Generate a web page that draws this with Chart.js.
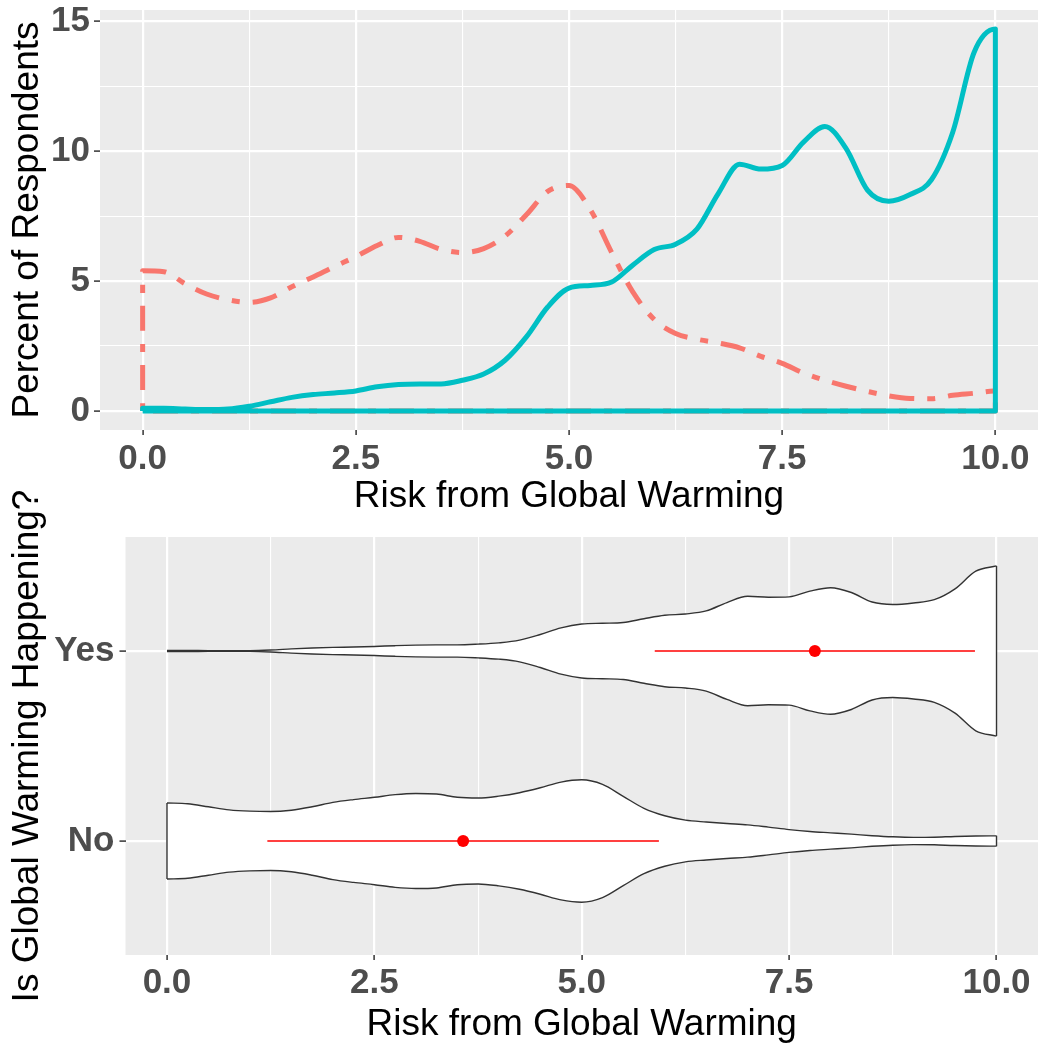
<!DOCTYPE html>
<html>
<head>
<meta charset="utf-8">
<script src="https://cdn.jsdelivr.net/npm/chart.js@4.4.1/dist/chart.umd.min.js"></script>
<style>
html, body { margin: 0; padding: 0; background: #fff; }
#wrap { position: relative; width: 1038px; height: 1049px; }
.box { position: absolute; left: 0; width: 1038px; }
</style>
</head>
<body>
<div id="wrap">
  <div class="box" style="top:0;height:520px"><canvas id="graficoDensidade"></canvas></div>
  <!-- o canvas de baixo sobe um pouco para o titulo do eixo y caber inteiro -->
  <div class="box" style="top:470px;height:579px"><canvas id="graficoViolino"></canvas></div>
</div>
<script>
// eixo x comum (risco de 0 a 10)
const risco = [0, 0.25, 0.5, 0.75, 1, 1.25, 1.5, 1.75, 2, 2.25, 2.5, 2.75, 3, 3.25, 3.5, 3.75, 4, 4.25, 4.5, 4.75,
    5, 5.25, 5.5, 5.75, 6, 6.25, 6.5, 6.75, 7, 7.25, 7.5, 7.75, 8, 8.25, 8.5, 8.75, 9, 9.25, 9.5, 9.75, 10];

// densidade em % (grafico de cima)
const densNo = [5.4, 5.36, 4.89, 4.5, 4.28, 4.18, 4.35, 4.78, 5.16, 5.56, 5.94, 6.37, 6.68, 6.53, 6.22, 6.1, 6.25, 6.73, 7.55, 8.45,
    8.68, 7.75, 6.1, 4.57, 3.52, 2.98, 2.76, 2.62, 2.43, 2.1, 1.83, 1.46, 1.18, 0.95, 0.75, 0.58, 0.48, 0.47, 0.6, 0.68, 0.77];
const densYes = [0.1, 0.1, 0.07, 0.05, 0.07, 0.18, 0.35, 0.52, 0.63, 0.69, 0.77, 0.93, 1.02, 1.04, 1.04, 1.18, 1.42, 1.95, 2.85, 4.0,
    4.73, 4.83, 4.96, 5.62, 6.21, 6.42, 7.0, 8.37, 9.5, 9.31, 9.45, 10.35, 10.95, 10.1, 8.5, 8.07, 8.33, 8.9, 10.73, 13.8, 14.7];

// meia largura dos violinos (grafico de baixo)
const violinoNo = [0.2, 0.196, 0.18, 0.164, 0.157, 0.155, 0.162, 0.18, 0.203, 0.218, 0.23, 0.244, 0.25, 0.247, 0.23, 0.226, 0.236, 0.254, 0.28, 0.31,
    0.322, 0.298, 0.235, 0.172, 0.133, 0.11, 0.1, 0.092, 0.085, 0.073, 0.06, 0.05, 0.043, 0.036, 0.028, 0.022, 0.019, 0.02, 0.024, 0.026, 0.027];
const violinoYes = [0.003, 0.003, 0.002, 0.002, 0.002, 0.005, 0.011, 0.016, 0.019, 0.021, 0.024, 0.028, 0.031, 0.032, 0.032, 0.036, 0.043, 0.057, 0.087, 0.122,
    0.142, 0.146, 0.15, 0.17, 0.188, 0.195, 0.211, 0.255, 0.288, 0.283, 0.285, 0.315, 0.333, 0.308, 0.258, 0.245, 0.253, 0.27, 0.327, 0.42, 0.448];

// media +- desvio (No, Yes)
const categorias = ['No', 'Yes'];
const medias = [3.57, 7.81];
const limInf = [1.21, 5.88];
const limSup = [5.93, 9.74];

// ticks
const gradeX = [0, 1.25, 2.5, 3.75, 5, 6.25, 7.5, 8.75, 10];
const rotulosX = [0, 2.5, 5, 7.5, 10];
const gradeY = [0, 2.5, 5, 7.5, 10, 12.5, 15];
const rotulosY = [0, 5, 10, 15];

const FONTE = "'Liberation Sans', Arial, sans-serif";
Chart.defaults.font.family = FONTE;
Chart.defaults.animation = false;

const fundoPainel = {
    id: 'fundoPainel',
    beforeDraw(chart) {
        const { ctx, chartArea: a } = chart;
        ctx.save();
        ctx.fillStyle = '#EBEBEB';
        ctx.fillRect(a.left, a.top, a.right - a.left, a.bottom - a.top);
        ctx.restore();
    }
};

function ehMajor(v, lista) {
    return lista.some(m => Math.abs(m - v) < 1e-9);
}

function eixoX(tickPad, altura, padTitulo) {
    return {
        type: 'linear',
        min: -0.5,
        max: 10.5,
        afterBuildTicks: s => { s.ticks = gradeX.map(v => ({ value: v })); },
        afterFit: s => { s.height = altura; s.paddingLeft = 0; s.paddingRight = 0; },
        border: { display: false },
        grid: {
            color: '#FFFFFF',
            lineWidth: c => ehMajor(c.tick.value, rotulosX) ? 2.2 : 1.1,
            tickColor: c => ehMajor(c.tick.value, rotulosX) ? '#333333' : 'rgba(0,0,0,0)',
            tickLength: 5,
            tickWidth: 1.5
        },
        ticks: {
            autoSkip: false,
            maxRotation: 0,
            padding: tickPad,
            color: '#4D4D4D',
            font: { size: 35, weight: 'bold' },
            callback: v => ehMajor(v, rotulosX) ? v.toFixed(1) : ''
        },
        title: {
            display: true,
            text: 'Risk from Global Warming',
            color: '#000',
            font: { size: 37 },
            padding: { top: 0, bottom: padTitulo }
        }
    };
}

// contorno da densidade (poligono fechado como no ggplot)
function contorno(dens) {
    const pts = [{ x: 0, y: 0 }];
    risco.forEach((r, i) => pts.push({ x: r, y: dens[i] }));
    pts.push({ x: 10, y: 0 });
    pts.push({ x: 0, y: 0 });
    return pts;
}

new Chart(document.getElementById('graficoDensidade'), {
    type: 'scatter',
    data: {
        datasets: [{
            label: 'Yes',
            data: contorno(densYes),
            showLine: true,
            borderColor: '#00BFC4',
            borderWidth: 5,
            borderJoinStyle: 'round',
            pointRadius: 0,
            cubicInterpolationMode: 'monotone',
            fill: false
        }, {
            label: 'No',
            data: contorno(densNo),
            showLine: true,
            borderColor: '#F8766D',
            borderWidth: 5,
            borderDash: [8, 13, 25, 13],
            borderCapStyle: 'butt',
            borderJoinStyle: 'round',
            pointRadius: 0,
            cubicInterpolationMode: 'monotone',
            fill: false
        }]
    },
    options: {
        responsive: true,
        maintainAspectRatio: false,
        layout: { autoPadding: false, padding: { top: 10, right: 0, left: 0, bottom: 0 } },
        plugins: { legend: { display: false }, tooltip: { enabled: false } },
        scales: {
            x: eixoX(3, 90, 1),
            y: {
                type: 'linear',
                min: -0.735,
                max: 15.435,
                afterBuildTicks: s => { s.ticks = gradeY.map(v => ({ value: v })); },
                afterFit: s => { s.width = 100; s.paddingTop = 0; s.paddingBottom = 0; },
                border: { display: false },
                grid: {
                    color: '#FFFFFF',
                    lineWidth: c => ehMajor(c.tick.value, rotulosY) ? 2.2 : 1.1,
                    tickColor: c => ehMajor(c.tick.value, rotulosY) ? '#333333' : 'rgba(0,0,0,0)',
                    tickLength: 6,
                    tickWidth: 1.5
                },
                ticks: {
                    autoSkip: false,
                    padding: 4,
                    color: '#4D4D4D',
                    font: { size: 35, weight: 'bold' },
                    callback: v => ehMajor(v, rotulosY) ? String(v) : ''
                },
                title: {
                    display: true,
                    text: 'Percent of Respondents',
                    color: '#000',
                    font: { size: 37 },
                    padding: { top: 6, bottom: 0 }
                }
            }
        }
    },
    plugins: [fundoPainel]
});

// violinos
const pos = [1, 2]; // No = 1, Yes = 2
function borda(meia, centro, sinal) {
    return risco.map((r, i) => ({ x: r, y: centro + sinal * meia[i] }));
}
const estiloContorno = {
    showLine: true,
    borderColor: '#333333',
    borderWidth: 1.4,
    pointRadius: 0,
    cubicInterpolationMode: 'monotone'
};
const ult = risco.length - 1;

new Chart(document.getElementById('graficoViolino'), {
    type: 'scatter',
    data: {
        datasets: [
            { data: [{ x: medias[1], y: pos[1] }], pointRadius: 6, pointBackgroundColor: '#FF0000', pointBorderWidth: 0 },
            { data: [{ x: medias[0], y: pos[0] }], pointRadius: 6, pointBackgroundColor: '#FF0000', pointBorderWidth: 0 },
            { data: [{ x: limInf[1], y: pos[1] }, { x: limSup[1], y: pos[1] }], showLine: true, borderColor: '#FF0000', borderWidth: 1.5, pointRadius: 0 },
            { data: [{ x: limInf[0], y: pos[0] }, { x: limSup[0], y: pos[0] }], showLine: true, borderColor: '#FF0000', borderWidth: 1.5, pointRadius: 0 },
            // Yes
            { ...estiloContorno, data: borda(violinoYes, pos[1], 1), fill: '+1', backgroundColor: '#FFFFFF' },
            { ...estiloContorno, data: borda(violinoYes, pos[1], -1), fill: false },
            { ...estiloContorno, cubicInterpolationMode: 'default', data: [{ x: 10, y: pos[1] - violinoYes[ult] }, { x: 10, y: pos[1] + violinoYes[ult] }], fill: false },
            // No
            { ...estiloContorno, data: borda(violinoNo, pos[0], 1), fill: '+1', backgroundColor: '#FFFFFF' },
            { ...estiloContorno, data: borda(violinoNo, pos[0], -1), fill: false },
            { ...estiloContorno, cubicInterpolationMode: 'default', data: [{ x: 10, y: pos[0] - violinoNo[ult] }, { x: 10, y: pos[0] + violinoNo[ult] }], fill: false },
            { ...estiloContorno, cubicInterpolationMode: 'default', data: [{ x: 0, y: pos[0] - violinoNo[0] }, { x: 0, y: pos[0] + violinoNo[0] }], fill: false }
        ]
    },
    options: {
        responsive: true,
        maintainAspectRatio: false,
        layout: { autoPadding: false, padding: { top: 67, right: 0, left: 0, bottom: 0 } },
        plugins: {
            legend: { display: false },
            tooltip: { enabled: false },
            filler: { drawTime: 'beforeDatasetsDraw' }
        },
        scales: {
            x: eixoX(2, 94, 2),
            y: {
                type: 'linear',
                min: 0.4,
                max: 2.6,
                afterBuildTicks: s => { s.ticks = pos.map(v => ({ value: v })); },
                afterFit: s => { s.width = 125.5; s.paddingTop = 0; s.paddingBottom = 0; },
                border: { display: false },
                grid: {
                    color: '#FFFFFF',
                    lineWidth: 2.2,
                    tickColor: '#333333',
                    tickLength: 6,
                    tickWidth: 1.5
                },
                ticks: {
                    autoSkip: false,
                    padding: 5,
                    color: '#4D4D4D',
                    font: { size: 35, weight: 'bold' },
                    callback: v => categorias[v - 1]
                },
                title: {
                    display: true,
                    text: 'Is Global Warming Happening?',
                    color: '#000',
                    font: { size: 37 },
                    padding: { top: 6, bottom: 0 }
                }
            }
        }
    },
    plugins: [fundoPainel]
});
</script>
</body>
</html>
